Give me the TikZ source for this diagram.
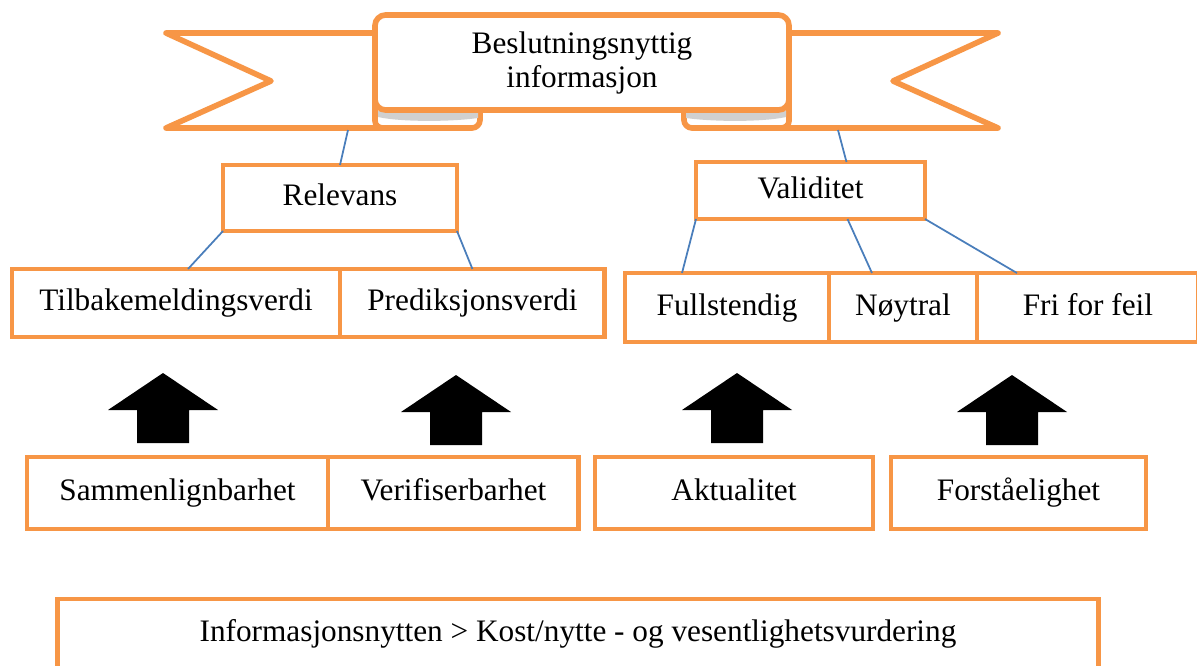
\documentclass[tikz,border=0pt]{standalone}
\usepackage{fontspec}
\setmainfont{Liberation Serif}
\usepackage{xcolor}
\usetikzlibrary{positioning,calc}
\definecolor{oransje}{HTML}{F79646}
\definecolor{linjeblaa}{HTML}{4A7EBB}
\definecolor{foldgraa}{HTML}{D0D0D0}

\begin{document}
\begin{tikzpicture}[x=0.02cm, y=-0.02cm]
    \tikzstyle{boks} = [rectangle, draw=oransje, line width=2.8pt, fill=white, text centered, inner sep=0pt, outer sep=0pt, text height=12.5pt, text depth=3.5pt, font=\fontsize{17.8}{21}\selectfont]
    \tikzstyle{linje} = [draw=linjeblaa, line width=1pt]
    \tikzstyle{baand} = [draw=oransje, line width=3.2pt, fill=white, line join=round]
    \useasboundingbox (0,0) rectangle (1197,666);

    % Banner: tails, folds, panel
    \draw [baand] (420,33) -- (166,33) -- (271,81) -- (166,128) -- (420,128) -- cycle;
    \draw [baand] (744,33) -- (998,33) -- (893,81) -- (998,128) -- (744,128) -- cycle;
    \draw [baand] (375,100) -- (375,121) to[out=-90,in=180] (383,128) -- (472,128) to[out=0,in=-90] (480,120) -- (480,100);
    \draw [baand] (684,100) -- (684,120) to[out=-90,in=180] (692,128) -- (781,128) to[out=0,in=-90] (789,121) -- (789,100);
    \fill [foldgraa] (378,111) -- (478,111) -- (478,118) .. controls (450,122) and (400,122) .. (378,117) -- cycle;
    \fill [foldgraa] (686,111) -- (786,111) -- (786,117) .. controls (764,122) and (714,122) .. (686,118) -- cycle;
    \draw [baand, rounded corners=6pt] (375,15) rectangle (789,110);
    \node [font=\fontsize{17.8}{19.8}\selectfont, align=center] (tittel) at (582,63) {Beslutningsnyttig\\informasjon};

    % Relevans
    \node [boks, minimum width=4.68cm, minimum height=1.32cm] (relevans) at (340,198) {Relevans};
    \node [boks, minimum width=6.56cm, minimum height=1.36cm] (tilbake) at (176,303) {Tilbakemeldingsverdi};
    \node [boks, minimum width=5.3cm, minimum height=1.36cm, right=0pt of tilbake] (prediksjon) {Prediksjonsverdi};

    % Validitet
    \node [boks, minimum width=4.58cm, minimum height=1.14cm] (validitet) at (810.5,190.5) {Validitet};
    \node [boks, minimum width=4.08cm, minimum height=1.38cm] (fullstendig) at (727,307.5) {Fullstendig};
    \node [boks, minimum width=2.96cm, minimum height=1.38cm, right=0pt of fullstendig] (noytral) {Nøytral};
    \node [boks, minimum width=4.44cm, minimum height=1.38cm, right=0pt of noytral] (frifeil) {Fri for feil};

    % Underliggende egenskaper
    \node [boks, minimum width=6.02cm, minimum height=1.44cm] (sammenlign) at (177.5,493) {Sammenlignbarhet};
    \node [boks, minimum width=5.02cm, minimum height=1.44cm, right=0pt of sammenlign] (verifiser) {Verifiserbarhet};
    \node [boks, minimum width=5.56cm, minimum height=1.44cm] (aktualitet) at (734,493) {Aktualitet};
    \node [boks, minimum width=5.1cm, minimum height=1.44cm] (forstaa) at (1018.5,493) {Forståelighet};
    \node [boks, minimum width=20.84cm, minimum height=1.38cm] (nytte) at (578,633.5) {Informasjonsnytten > Kost/nytte - og vesentlighetsvurdering};

    % Linjer
    \coordinate (baandV) at (348,130);
    \coordinate (baandH) at (838,130);
    \draw [linje] (baandV) -- (relevans.north);
    \draw [linje] (baandH) -- ($(validitet.north)+(36,0)$);
    \draw [linje] (relevans.south west) -- ($(tilbake.north)+(12,0)$);
    \draw [linje] (relevans.south east) -- (prediksjon.north);
    \draw [linje] (validitet.south west) -- ($(fullstendig.north)+(-45,0)$);
    \draw [linje] ($(validitet.south)+(37,0)$) -- ($(noytral.north)+(-31,0)$);
    \draw [linje] (validitet.south east) -- ($(frifeil.north)+(-71,0)$);

    % Piler
    \foreach \ax/\ay in {163/373, 456/375, 737/373, 1012/375}
        \fill ({\ax},\ay) -- ({\ax+55},{\ay+37}) -- ({\ax+26},{\ay+37}) -- ({\ax+26},{\ay+70}) -- ({\ax-26},{\ay+70}) -- ({\ax-26},{\ay+37}) -- ({\ax-55},{\ay+37}) -- cycle;
\end{tikzpicture}
\end{document}
